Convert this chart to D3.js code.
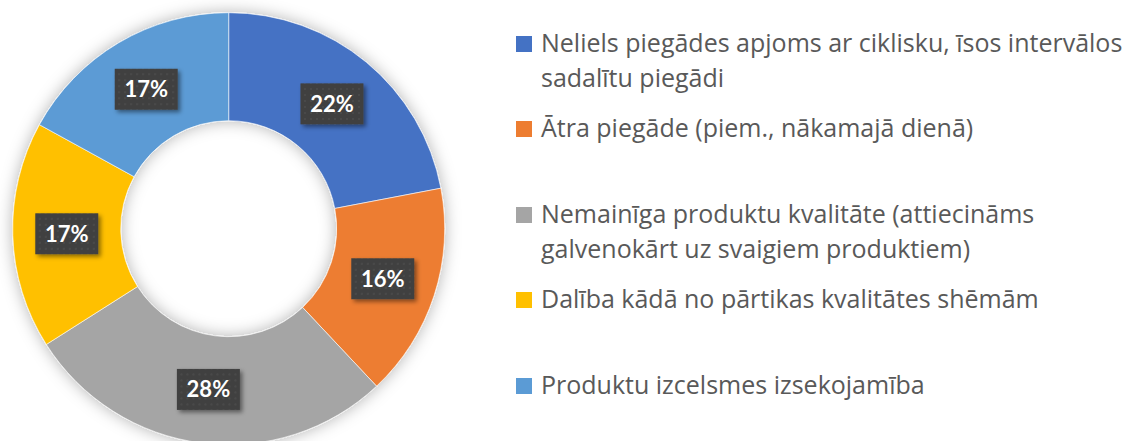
<!DOCTYPE html>
<html>
<head>
<meta charset="utf-8">
<script src="https://cdn.jsdelivr.net/npm/d3@7"></script>
<style>
  body { margin: 0; background: #fff; }
  svg { display: block; }
</style>
</head>
<body>
<script>
var categories = [
  ["Neliels piegādes apjoms ar ciklisku, īsos intervālos", "sadalītu piegādi"],
  ["Ātra piegāde (piem., nākamajā dienā)"],
  ["Nemainīga produktu kvalitāte (attiecināms", "galvenokārt uz svaigiem produktiem)"],
  ["Dalība kādā no pārtikas kvalitātes shēmām"],
  ["Produktu izcelsmes izsekojamība"]
];
var values = [22, 16, 28, 17, 17];
var labels = ["22%", "16%", "28%", "17%", "17%"];
var colors = ["#4472C4", "#ED7D31", "#A5A5A5", "#FFC000", "#5B9BD5"];
// legend baselines (first line of each entry)
var legendY = [52, 137, 223, 308, 394];

var width = 1139, height = 441;
var cx = 228.7, cy = 228.7, outerR = 216, innerR = 108;

var svg = d3.select("body").append("svg")
  .attr("width", width).attr("height", height);

var defs = svg.append("defs");

var ringShadow = defs.append("filter").attr("id", "ringShadow")
  .attr("x", "-20%").attr("y", "-20%").attr("width", "140%").attr("height", "140%");
ringShadow.append("feDropShadow")
  .attr("dx", 0).attr("dy", 0).attr("stdDeviation", 8)
  .attr("flood-color", "#000").attr("flood-opacity", 0.3);

var boxShadow = defs.append("filter").attr("id", "boxShadow")
  .attr("x", "-30%").attr("y", "-30%").attr("width", "160%").attr("height", "160%");
boxShadow.append("feDropShadow")
  .attr("dx", 2.5).attr("dy", 2.5).attr("stdDeviation", 2)
  .attr("flood-color", "#000").attr("flood-opacity", 0.45);

var pat = defs.append("pattern").attr("id", "dots")
  .attr("width", 6).attr("height", 6).attr("patternUnits", "userSpaceOnUse");
pat.append("rect").attr("width", 6).attr("height", 6).attr("fill", "#404040");
pat.append("circle").attr("cx", 3).attr("cy", 3).attr("r", 0.8).attr("fill", "#575757");

var pie = d3.pie().sort(null).value(function(d) { return d; });
var arc = d3.arc().innerRadius(innerR).outerRadius(outerR);
var arcs = pie(values);

var g = svg.append("g").attr("transform", "translate(" + cx + "," + cy + ")");

g.append("g").attr("filter", "url(#ringShadow)")
  .selectAll("path")
  .data(arcs)
  .enter().append("path")
  .attr("d", arc)
  .attr("fill", function(d, i) { return colors[i]; })
  .attr("stroke", "#fff")
  .attr("stroke-width", 0.6);

var lab = g.selectAll("g.lab")
  .data(arcs)
  .enter().append("g")
  .attr("class", "lab")
  .attr("transform", function(d) {
    var c = arc.centroid(d);
    return "translate(" + c[0] + "," + c[1] + ")";
  });

lab.append("rect")
  .attr("x", -31.5).attr("y", -20.5)
  .attr("width", 63).attr("height", 41)
  .attr("fill", "url(#dots)")
  .attr("filter", "url(#boxShadow)");

lab.append("text")
  .attr("text-anchor", "middle")
  .attr("dy", "0.36em")
  .attr("fill", "#fff")
  .style("font-family", "Lato, 'Open Sans', sans-serif")
  .style("font-weight", "bold")
  .style("font-size", "22px")
  .text(function(d, i) { return labels[i]; });

// legend
var legend = svg.append("g");
var item = legend.selectAll("g.item")
  .data(categories)
  .enter().append("g")
  .attr("class", "item")
  .attr("transform", function(d, i) { return "translate(0," + legendY[i] + ")"; });

item.append("rect")
  .attr("x", 516).attr("y", -16)
  .attr("width", 16).attr("height", 16)
  .attr("fill", function(d, i) { return colors[i]; });

var txt = item.append("text")
  .attr("x", 541)
  .attr("fill", "#595959")
  .style("font-family", "'Open Sans', sans-serif")
  .style("font-size", "25px");

txt.selectAll("tspan")
  .data(function(d) { return d; })
  .enter().append("tspan")
  .attr("x", 541)
  .attr("y", function(d, j) { return j * 35; })
  .text(function(d) { return d; });
</script>
</body>
</html>
